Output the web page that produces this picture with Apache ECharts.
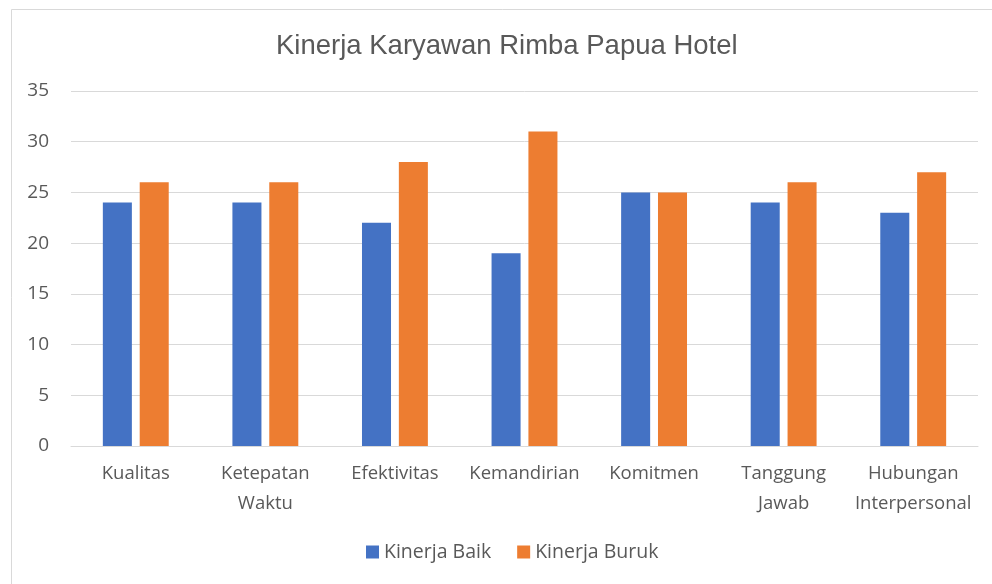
<!DOCTYPE html>
<html>
<head>
<meta charset="utf-8">
<script src="https://cdn.jsdelivr.net/npm/echarts@6/dist/echarts.min.js"></script>
<style>
  html, body { margin: 0; padding: 0; background: #fff; }
  #chart { width: 992px; height: 584px; }
</style>
</head>
<body>
<div id="chart"></div>
<script>
// data
const categories = ['Kualitas', 'Ketepatan\nWaktu', 'Efektivitas', 'Kemandirian', 'Komitmen', 'Tanggung\nJawab', 'Hubungan\nInterpersonal'];
const kinerjaBaik = [24, 24, 22, 19, 25, 24, 23];
const kinerjaBuruk = [26, 26, 28, 31, 25, 26, 27];
const seriesNames = ['Kinerja Baik', 'Kinerja Buruk'];

const textColor = '#595959';
const labelFont = '"Open Sans", "Noto Sans", sans-serif';

const chart = echarts.init(document.getElementById('chart'));

chart.setOption({
    animation: false,
    backgroundColor: '#fff',
    graphic: [{
        type: 'rect',
        silent: true,
        z: -10,
        shape: { x: 11.5, y: 9.5, width: 1000, height: 600 },
        style: { fill: '#fff', stroke: '#d9d9d9', lineWidth: 1 }
    }],
    title: {
        text: 'Kinerja Karyawan Rimba Papua Hotel',
        left: 271,
        top: 27,
        textStyle: {
            color: textColor,
            fontSize: 27.5,
            fontWeight: 'normal',
            fontFamily: '"Liberation Sans", Arial, sans-serif'
        }
    },
    legend: {
        bottom: 17,
        left: 361,
        itemWidth: 13,
        itemHeight: 13,
        itemGap: 26,
        icon: 'rect',
        textStyle: { color: textColor, fontSize: 19.5, fontFamily: labelFont },
        data: seriesNames
    },
    grid: {
        left: 71,
        right: 14,
        top: 91,
        bottom: 138
    },
    xAxis: {
        type: 'category',
        data: categories,
        axisTick: { show: false },
        axisLine: { lineStyle: { color: '#d9d9d9', width: 1 } },
        axisLabel: {
            color: textColor,
            fontSize: 18.5,
            fontFamily: labelFont,
            lineHeight: 30,
            margin: 13,
            interval: 0
        }
    },
    yAxis: {
        type: 'value',
        min: 0,
        max: 35,
        interval: 5,
        axisLine: { show: false },
        axisTick: { show: false },
        splitLine: { lineStyle: { color: '#d9d9d9', width: 1 } },
        axisLabel: {
            color: textColor,
            fontSize: 19,
            fontFamily: labelFont,
            margin: 22
        }
    },
    series: [
        {
            name: seriesNames[0],
            type: 'bar',
            data: kinerjaBaik,
            barWidth: '22.4%',
            barGap: '27%',
            itemStyle: { color: '#4472c4' }
        },
        {
            name: seriesNames[1],
            type: 'bar',
            data: kinerjaBuruk,
            barWidth: '22.4%',
            barGap: '27%',
            itemStyle: { color: '#ed7d31' }
        }
    ]
});
</script>
</body>
</html>
